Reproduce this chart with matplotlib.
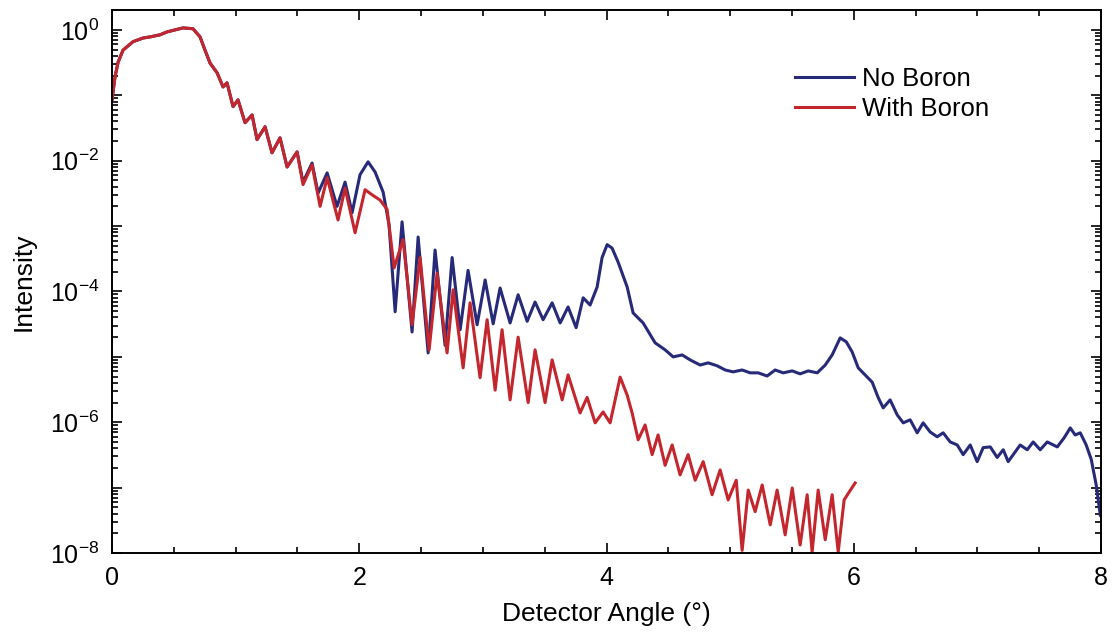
import numpy as np
import matplotlib
matplotlib.use("Agg")
import matplotlib.pyplot as plt
from matplotlib.ticker import FixedLocator, FuncFormatter, MultipleLocator, LogLocator, NullFormatter

plt.rcParams['font.family'] = ['Liberation Sans', 'DejaVu Sans']
plt.rcParams['mathtext.fontset'] = 'custom'
plt.rcParams['mathtext.rm'] = 'Liberation Sans'
plt.rcParams['mathtext.it'] = 'Liberation Sans:italic'

# shared low-angle part (both samples overlap)
early_x = [0.00, 0.024, 0.049, 0.089, 0.170, 0.251, 0.307, 0.388, 0.445, 0.510,
           0.574, 0.655, 0.712, 0.752, 0.793, 0.850, 0.898, 0.930, 0.979, 1.019,
           1.076, 1.133, 1.173, 1.238, 1.294, 1.359, 1.416, 1.497]
early_y = [0.085, 0.19, 0.32, 0.49, 0.66, 0.75, 0.78, 0.84, 0.93, 1.0,
           1.07, 1.04, 0.78, 0.49, 0.31, 0.22, 0.134, 0.155, 0.067, 0.085,
           0.038, 0.050, 0.021, 0.033, 0.0132, 0.0223, 0.0080, 0.0136]

# No Boron
nb_x = [1.545, 1.618, 1.667, 1.740, 1.820, 1.885, 1.942, 2.006, 2.071, 2.128,
        2.193, 2.241, 2.290, 2.346, 2.427, 2.476, 2.557, 2.613, 2.694, 2.751,
        2.816, 2.880, 2.953, 3.018, 3.083, 3.139, 3.220, 3.285, 3.358, 3.422,
        3.487, 3.560, 3.625, 3.689, 3.754, 3.811, 3.867, 3.924, 3.964, 4.005,
        4.045, 4.094, 4.167, 4.215, 4.296, 4.393, 4.474, 4.539, 4.612, 4.676,
        4.757, 4.822, 4.895, 4.960, 5.024, 5.097, 5.162, 5.227, 5.299, 5.364,
        5.429, 5.502, 5.566, 5.631, 5.704, 5.769, 5.825, 5.890, 5.939, 5.987,
        6.036, 6.092, 6.149, 6.197, 6.238, 6.294, 6.351, 6.400, 6.456, 6.513,
        6.561, 6.618, 6.675, 6.723, 6.780, 6.837, 6.885, 6.942, 6.998, 7.047,
        7.104, 7.160, 7.209, 7.249, 7.290, 7.346, 7.403, 7.451, 7.508, 7.565,
        7.646, 7.702, 7.751, 7.791, 7.832, 7.880, 7.921, 7.961, 7.994]
nb_y = [0.0047, 0.0092, 0.0032, 0.0065, 0.0020, 0.0047, 0.0016, 0.0061, 0.0096, 0.0067,
        0.0033, 0.00104, 4.9e-5, 0.00116, 2.4e-5, 6.8e-4, 1.15e-5, 4.3e-4, 1.5e-5, 3.3e-4,
        2.6e-5, 2.1e-4, 3.1e-5, 1.5e-4, 3.2e-5, 1.13e-4, 3.3e-5, 8.9e-5, 3.5e-5, 6.9e-5,
        3.7e-5, 6.7e-5, 3.3e-5, 5.8e-5, 2.8e-5, 8.0e-5, 6.2e-5, 1.17e-4, 3.3e-4, 5.2e-4,
        4.6e-4, 2.8e-4, 1.17e-4, 4.7e-5, 3.3e-5, 1.64e-5, 1.28e-5, 1.0e-5, 1.07e-5, 9.0e-6,
        7.5e-6, 8.1e-6, 7.3e-6, 6.3e-6, 5.9e-6, 6.3e-6, 5.7e-6, 5.7e-6, 5.1e-6, 6.3e-6,
        5.7e-6, 6.1e-6, 5.5e-6, 6.1e-6, 5.7e-6, 7.5e-6, 1.07e-5, 1.95e-5, 1.7e-5, 1.19e-5,
        6.8e-6, 5.3e-6, 4.1e-6, 2.4e-6, 1.66e-6, 2.2e-6, 1.3e-6, 9.8e-7, 1.09e-6, 6.9e-7,
        9.8e-7, 7.1e-7, 6.0e-7, 6.9e-7, 5.0e-7, 4.5e-7, 3.2e-7, 4.5e-7, 2.5e-7, 4.1e-7,
        4.2e-7, 2.9e-7, 3.8e-7, 2.5e-7, 3.2e-7, 4.5e-7, 3.8e-7, 5.0e-7, 3.8e-7, 5.0e-7,
        4.2e-7, 5.8e-7, 8.2e-7, 6.4e-7, 6.9e-7, 4.5e-7, 2.7e-7, 1.1e-7, 3.8e-8]

# With Boron
wb_x = [1.545, 1.618, 1.683, 1.740, 1.828, 1.885, 1.966, 2.047, 2.104, 2.168,
        2.225, 2.282, 2.354, 2.427, 2.492, 2.565, 2.629, 2.710, 2.759, 2.840,
        2.896, 2.977, 3.034, 3.099, 3.155, 3.220, 3.285, 3.366, 3.422, 3.503,
        3.560, 3.641, 3.689, 3.786, 3.843, 3.908, 3.972, 4.029, 4.110, 4.167,
        4.207, 4.256, 4.312, 4.369, 4.417, 4.474, 4.531, 4.595, 4.660, 4.717,
        4.782, 4.854, 4.919, 4.984, 5.049, 5.097, 5.146, 5.202, 5.259, 5.324,
        5.380, 5.445, 5.502, 5.566, 5.623, 5.663, 5.712, 5.769, 5.825, 5.874,
        5.922, 5.963, 6.011]
wb_y = [0.0043, 0.0086, 0.0020, 0.0055, 0.00124, 0.0038, 7.9e-4, 0.0036, 0.0030, 0.0025,
        0.0018, 2.3e-4, 6.2e-4, 3.1e-5, 3.3e-4, 1.28e-5, 1.9e-4, 1.15e-5, 1.06e-4, 6.8e-6,
        6.7e-5, 4.8e-6, 3.7e-5, 3.1e-6, 2.6e-5, 2.2e-6, 2.0e-5, 2.0e-6, 1.28e-5, 2.0e-6,
        9.0e-6, 2.2e-6, 5.3e-6, 1.39e-6, 2.4e-6, 9.8e-7, 1.44e-6, 9.8e-7, 4.9e-6, 2.6e-6,
        1.39e-6, 5.4e-7, 9.1e-7, 3.2e-7, 6.4e-7, 2.2e-7, 4.5e-7, 1.57e-7, 3.2e-7, 1.3e-7,
        2.5e-7, 7.8e-8, 1.87e-7, 6.5e-8, 1.3e-7, 1.1e-8, 9.2e-8, 4.3e-8, 1.1e-7, 2.7e-8,
        9.2e-8, 1.9e-8, 9.9e-8, 1.33e-8, 7.8e-8, 1.04e-8, 9.2e-8, 1.6e-8, 7.8e-8, 1.04e-8,
        6.5e-8, 8.6e-8, 1.18e-7]

blue = '#262a78'
red = '#c4262e'

fig = plt.figure(figsize=(11.17, 6.35), dpi=100)
ax = fig.add_axes([0.1003, 0.129, 0.8854, 0.855])

ax.plot(early_x + nb_x, early_y + nb_y, color=blue, lw=2.2, label='No Boron',
        solid_joinstyle='round')
ax.plot(early_x + wb_x, early_y + wb_y, color=red, lw=2.2, label='With Boron',
        solid_joinstyle='round')

ax.set_yscale('log')
ax.set_xlim(0, 8)
ax.set_ylim(1e-8, 2.0)

ax.xaxis.set_major_locator(MultipleLocator(2))
ax.xaxis.set_minor_locator(MultipleLocator(0.5))
ax.yaxis.set_major_locator(FixedLocator([10.0 ** e for e in range(-8, 1)]))
ax.yaxis.set_major_formatter(FuncFormatter(
    lambda v, p: r'$10^{%d}$' % round(np.log10(v)) if round(np.log10(v)) % 2 == 0 else ''))
ax.yaxis.set_minor_locator(LogLocator(base=10, subs=np.arange(2, 10), numticks=20))
ax.yaxis.set_minor_formatter(NullFormatter())

ax.tick_params(which='both', direction='in', top=True, right=True, labelsize=18, width=1.2)
ax.tick_params(which='major', length=7)
ax.tick_params(which='minor', length=4)
ax.tick_params(axis='x', pad=9)
ax.tick_params(axis='y', pad=9)
for s in ax.spines.values():
    s.set_linewidth(1.4)

ax.set_xlabel('Detector Angle (°)', fontsize=19, labelpad=9)
ax.set_ylabel('Intensity', fontsize=19, labelpad=10)

ax.legend(loc='upper left', bbox_to_anchor=(0.667, 0.937), frameon=False, fontsize=18.5,
          handlelength=2.3, labelspacing=0.2, handletextpad=0.3)

fig.savefig('out.png', dpi=100)
